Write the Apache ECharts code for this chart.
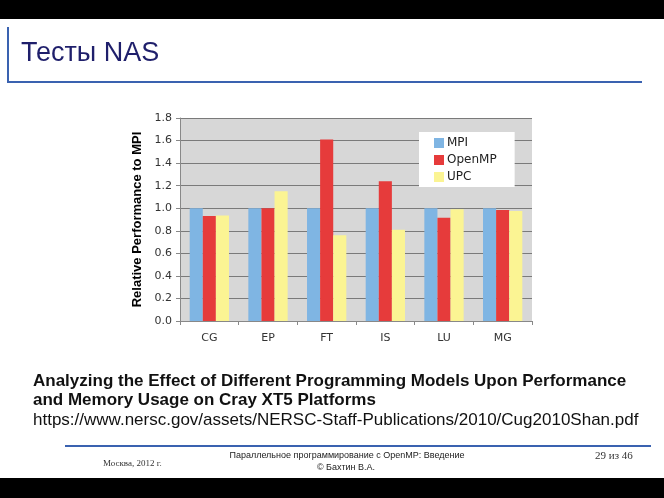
<!DOCTYPE html>
<html><head><meta charset="utf-8">
<script src="https://cdn.jsdelivr.net/npm/echarts@6/dist/echarts.min.js"></script>
<style>html,body{margin:0;padding:0;background:#fff}#c{width:664px;height:498px}</style>
</head><body><div id="c"></div>
<script>
const categories = ['CG', 'EP', 'FT', 'IS', 'LU', 'MG'];
const mpi = [1.0, 1.0, 1.0, 1.0, 1.0, 1.0];
const openmp = [0.93, 1.0, 1.61, 1.24, 0.915, 0.985];
const upc = [0.935, 1.15, 0.76, 0.81, 0.99, 0.975];
const seriesNames = ['MPI', 'OpenMP', 'UPC'];
const yTicks = [0, 0.2, 0.4, 0.6, 0.8, 1.0, 1.2, 1.4, 1.6, 1.8];

const chart = echarts.init(document.getElementById('c'), null, {renderer: 'canvas'});
const colors = ['#7fb5e3', '#e63b3b', '#fbf493'];
const tickFont = 'Verdana, "DejaVu Sans", sans-serif';
chart.setOption({
  animation: false,
  color: colors,
  grid: {left: 180, top: 118, width: 352, height: 203, show: true, backgroundColor: '#d7d7d7', borderWidth: 0},
  legend: {
    orient: 'vertical', left: 419, top: 132,
    backgroundColor: '#ffffff', padding: [5, 18, 4, 15], itemGap: 5,
    itemWidth: 10, itemHeight: 10, icon: 'rect',
    textStyle: {fontFamily: tickFont, fontSize: 12, color: '#222', padding: [0, 0, 0, -2]},
    data: seriesNames
  },
  xAxis: {
    type: 'category', data: categories,
    axisLine: {lineStyle: {color: '#888', width: 1}},
    axisTick: {show: true, length: 4, lineStyle: {color: '#888'}},
    axisLabel: {fontFamily: tickFont, fontSize: 11, color: '#333', margin: 12}
  },
  yAxis: {
    type: 'value', min: yTicks[0], max: yTicks[yTicks.length - 1], interval: 0.2,
    name: 'Relative Performance to MPI', nameLocation: 'middle', nameGap: 33,
    nameTextStyle: {fontFamily: 'Arial, "Liberation Sans", sans-serif', fontWeight: 'bold', fontSize: 13, color: '#000'},
    axisLine: {show: true, lineStyle: {color: '#888'}},
    axisTick: {show: true, length: 4, lineStyle: {color: '#888'}},
    axisLabel: {fontFamily: tickFont, fontSize: 11, color: '#333', margin: 8, formatter: v => v.toFixed(1)},
    splitLine: {lineStyle: {color: '#7a7a7a', width: 1}}
  },
  series: [
    {name: seriesNames[0], type: 'bar', data: mpi, barGap: '0%', barCategoryGap: '33%'},
    {name: seriesNames[1], type: 'bar', data: openmp, barGap: '0%', barCategoryGap: '33%'},
    {name: seriesNames[2], type: 'bar', data: upc, barGap: '0%', barCategoryGap: '33%'}
  ],
  graphic: [
    {type: 'rect', shape: {x: 0, y: 0, width: 664, height: 19}, style: {fill: '#000'}},
    {type: 'rect', shape: {x: 0, y: 478, width: 664, height: 20}, style: {fill: '#000'}},
    {type: 'line', shape: {x1: 8, y1: 27, x2: 8, y2: 83}, style: {stroke: '#3a62b0', lineWidth: 2}},
    {type: 'line', shape: {x1: 7, y1: 82, x2: 642, y2: 82}, style: {stroke: '#3a62b0', lineWidth: 2}},
    {type: 'text', left: 21, top: 40, style: {text: 'Тесты NAS', font: '27px Arial, "Liberation Sans", sans-serif', fill: '#1f1f6b'}},
    {type: 'text', left: 33, top: 373, style: {text: 'Analyzing the Effect of Different Programming Models Upon Performance', font: 'bold 17px Arial, "Liberation Sans", sans-serif', fill: '#111'}},
    {type: 'text', left: 33, top: 392, style: {text: 'and Memory Usage on Cray XT5 Platforms', font: 'bold 17px Arial, "Liberation Sans", sans-serif', fill: '#111'}},
    {type: 'text', left: 33, top: 412, style: {text: 'https://www.nersc.gov/assets/NERSC-Staff-Publications/2010/Cug2010Shan.pdf', font: '17px Arial, "Liberation Sans", sans-serif', fill: '#111'}},
    {type: 'line', shape: {x1: 65, y1: 446, x2: 651, y2: 446}, style: {stroke: '#3a62b0', lineWidth: 2}},
    {type: 'text', left: 103, top: 459, style: {text: 'Москва, 2012 г.', font: '9px "Liberation Serif", "DejaVu Serif", serif', fill: '#333'}},
    {type: 'text', x: 347, y: 451, style: {text: 'Параллельное программирование с OpenMP: Введение', align: 'center', font: '9px Arial, "Liberation Sans", sans-serif', fill: '#222'}},
    {type: 'text', x: 346, y: 463, style: {text: '© Бахтин В.А.', align: 'center', font: '9px Arial, "Liberation Sans", sans-serif', fill: '#222'}},
    {type: 'text', left: 595, top: 451, style: {text: '29 из 46', font: '11px "Liberation Serif", "DejaVu Serif", serif', fill: '#333'}}
  ]
});
</script></body></html>
